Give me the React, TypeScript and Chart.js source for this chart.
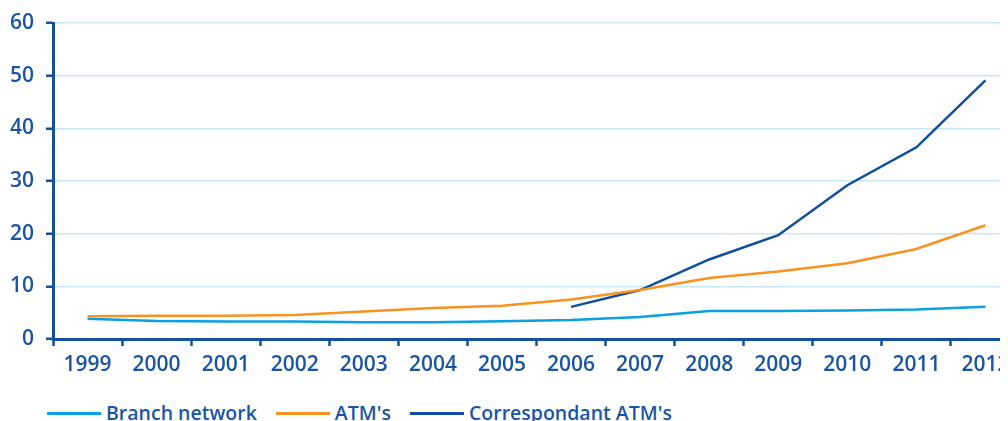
import React, { useEffect, useRef } from "react";
import { Chart, registerables } from "chart.js";

Chart.register(...registerables);

const categories = ["1999", "2000", "2001", "2002", "2003", "2004", "2005", "2006", "2007", "2008", "2009", "2010", "2011", "2012"];
const branchNetwork = [3.85, 3.4, 3.3, 3.3, 3.2, 3.2, 3.35, 3.6, 4.2, 5.3, 5.3, 5.4, 5.6, 6.1];
const atms = [4.3, 4.4, 4.4, 4.55, 5.2, 5.9, 6.3, 7.5, 9.3, 11.6, 12.8, 14.4, 17.1, 21.6];
const correspondantAtms = [null, null, null, null, null, null, null, 6.1, 9.3, 15.1, 19.7, 29.2, 36.4, 49.1];
const yTicks = [0, 10, 20, 30, 40, 50, 60];

const seriesLabels = ["Branch network", "ATM's", "Correspondant ATM's"];
const seriesColors = ["#0aa0e2", "#f7931e", "#0f4e9e"];

const TEXT = "#1a55a5";
const AXIS = "#1550a0";
const GRID = "#c9e8f5";
const FONT = "'Open Sans', sans-serif";

export default function App() {
  const ref = useRef<HTMLCanvasElement | null>(null);

  useEffect(() => {
    if (!ref.current) return;
    const chart = new Chart(ref.current, {
      type: "line",
      data: {
        labels: categories,
        datasets: [branchNetwork, atms, correspondantAtms].map((d, i) => ({
          label: seriesLabels[i],
          data: d,
          borderColor: seriesColors[i],
          backgroundColor: seriesColors[i],
          borderWidth: 2.5,
          pointRadius: 0,
          tension: 0,
          fill: false,
          spanGaps: false,
        })),
      },
      options: {
        responsive: false,
        animation: false,
        layout: { padding: { left: 0, right: 8, top: 15, bottom: 0 } },
        plugins: { legend: { display: false }, tooltip: { enabled: false } },
        scales: {
          x: {
            offset: true,
            grid: {
              offset: true,
              drawOnChartArea: false,
              drawTicks: true,
              tickLength: 7,
              tickColor: AXIS,
              tickWidth: 2.5,
              color: AXIS,
            },
            border: { color: AXIS, width: 3 },
            ticks: {
              color: TEXT,
              font: { family: FONT, size: 21, weight: "600" },
              padding: 6,
              maxRotation: 0,
              autoSkip: false,
            },
            afterFit: (scale: any) => {
              scale.height = 49;
              scale.paddingLeft = 0;
              scale.paddingRight = 0;
            },
          },
          y: {
            min: 0,
            max: 60,
            afterBuildTicks: (scale: any) => {
              scale.ticks = yTicks.map((v) => ({ value: v }));
            },
            grid: {
              color: GRID,
              lineWidth: 1.5,
              tickLength: 7,
              tickColor: AXIS,
              tickWidth: 2.5,
            },
            border: { color: AXIS, width: 3 },
            ticks: {
              color: TEXT,
              font: { family: FONT, size: 21, weight: "600" },
              padding: 12,
            },
            afterFit: (scale: any) => {
              scale.width = 45;
              scale.paddingTop = 0;
              scale.paddingBottom = 0;
            },
          },
        },
      },
    });
    return () => chart.destroy();
  }, []);

  return (
    <div style={{ position: "relative", width: 1000, height: 413, overflow: "hidden" }}>
      <canvas ref={ref} width={1020} height={380} style={{ display: "block", width: 1020, height: 380 }} />
      <div
        style={{
          position: "absolute",
          left: 39,
          top: 393,
          display: "flex",
          alignItems: "center",
          height: 24,
          lineHeight: "24px",
          fontFamily: FONT,
          fontSize: 19.5,
          fontWeight: 600,
          color: TEXT,
          whiteSpace: "nowrap",
        }}
      >
        {seriesLabels.map((l, i) => (
          <div key={l} style={{ display: "flex", alignItems: "center", marginRight: 19 }}>
            <span style={{ display: "inline-block", width: 54, height: 3, background: seriesColors[i], marginRight: 5, marginTop: 1 }} />
            <span>{l}</span>
          </div>
        ))}
      </div>
    </div>
  );
}
